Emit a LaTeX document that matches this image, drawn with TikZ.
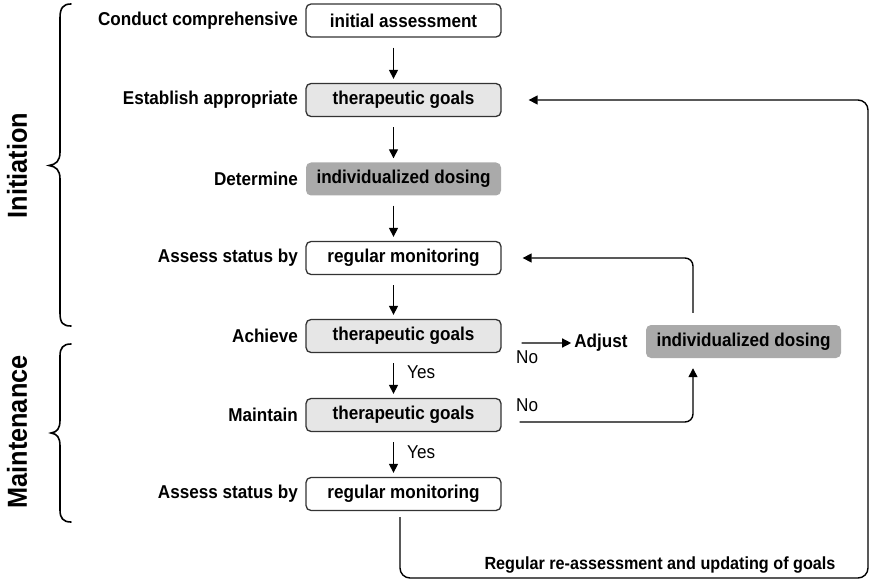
\documentclass[tikz,border=0pt]{standalone}
\usepackage{fontspec}
\setmainfont{Liberation Sans}[FakeStretch=0.92]
\usetikzlibrary{arrows.meta}

\definecolor{lightbox}{HTML}{E6E6E6}
\definecolor{darkbox}{HTML}{AAAAAA}
\definecolor{edge}{HTML}{333333}

\tikzset{
  box/.style={rounded corners=5bp, minimum width=195bp, minimum height=33bp,
    inner sep=0pt, font=\fontsize{18.6bp}{20bp}\selectfont\bfseries},
  plainbox/.style={box, draw=edge, line width=1.3bp, fill=white},
  goalbox/.style={box, draw=edge, line width=1.3bp, fill=lightbox},
  dosebox/.style={box, fill=darkbox},
  lead/.style={anchor=east, inner sep=0pt, font=\fontsize{18.6bp}{20bp}\selectfont\bfseries},
  answer/.style={inner sep=0pt, font=\fontsize{18.6bp}{20bp}\selectfont},
  phase/.style={rotate=90, inner sep=0pt, font=\fontsize{27.5bp}{30bp}\selectfont\bfseries},
  arr/.style={line width=1.4bp, draw=black, -{Triangle[length=9bp,width=9bp]}},
  brace/.style={line width=1.6bp, line cap=round}
}

\begin{document}
\begin{tikzpicture}[x=1bp, y=-1bp]
\useasboundingbox (0,0) rectangle (872,583);

% main column of steps
\node[plainbox] (b1) at (403.5,20.5) {initial assessment};
\node[goalbox]  (b2) at (403.5,100)  {therapeutic goals};
\node[dosebox]  (b3) at (403.5,179)  {individualized dosing};
\node[plainbox] (b4) at (403.5,258)  {regular monitoring};
\node[goalbox]  (b5) at (403.5,336)  {therapeutic goals};
\node[goalbox]  (b6) at (403.5,415)  {therapeutic goals};
\node[plainbox] (b7) at (403.5,494)  {regular monitoring};

% lead-in words on the left of each step
\node[lead] (l1) at (298,20.5) {Conduct comprehensive};
\node[lead] (l2) at (298,100)  {Establish appropriate};
\node[lead] (l3) at (298,179)  {Determine};
\node[lead] (l4) at (298,258)  {Assess status by};
\node[lead] (l5) at (298,336)  {Achieve};
\node[lead] (l6) at (298,415)  {Maintain};
\node[lead] (l7) at (298,494)  {Assess status by};

% adjustment branch
\node[lead, anchor=center] (adj) at (601,343) {Adjust};
\node[dosebox] (b8) at (743.5,341.5) {individualized dosing};

% downward flow
\foreach \a/\b in {b1/b2, b2/b3, b3/b4, b4/b5, b5/b6, b6/b7}
  \draw[arr] ([xshift=-10bp,yshift=-10bp]\a.south) -- ([xshift=-10bp,yshift=4bp]\b.north);

\node[answer, anchor=west] (y1) at (407,372) {Yes};
\node[answer, anchor=west] (y2) at (407,452) {Yes};

% not achieved -> adjust dosing
\draw[arr] ([xshift=20bp,yshift=-7bp]b5.east) -- ([xshift=-3bp]adj.west);
\node[answer, anchor=west] (n1) at (516,357) {No};

% not maintained -> adjust dosing
\draw[arr, rounded corners=8bp] ([xshift=18bp,yshift=-7bp]b6.east)
  -| ([xshift=-50.5bp,yshift=-10bp]b8.south);
\node[answer, anchor=west] (n2) at (516,405) {No};

% adjusted dosing -> monitoring again
\draw[arr, rounded corners=8bp] ([xshift=-50.5bp,yshift=12bp]b8.north)
  |- ([xshift=21bp]b4.east);

% long-term re-assessment loop back to goals
\draw[arr, rounded corners=10bp] ([xshift=-3.5bp,yshift=-6bp]b7.south)
  |- (868,578) |- ([xshift=27bp]b2.east);
\node[lead, anchor=center, font=\fontsize{17.6bp}{20bp}\selectfont\bfseries] (loop) at (660,565)
  {Regular re-assessment and updating of goals};

% phase braces
\draw[brace] (71,4) .. controls (63,4) and (60,8) .. (60,18)
  -- (60,152) .. controls (60,161) and (56,164.5) .. (49,165.5)
  .. controls (56,166.5) and (60,170) .. (60,179)
  -- (60,313) .. controls (60,323) and (63,326) .. (71,326);
\node[phase] (ini) at (17,165.5) {Initiation};

\draw[brace] (71,344) .. controls (63,344) and (60,348) .. (60,356)
  -- (60,420) .. controls (60,429) and (57,432) .. (51,433)
  .. controls (57,434) and (60,437) .. (60,446)
  -- (60,510) .. controls (60,518) and (63,522) .. (71,522);
\node[phase] (mnt) at (17,432) {Maintenance};
\end{tikzpicture}
\end{document}
